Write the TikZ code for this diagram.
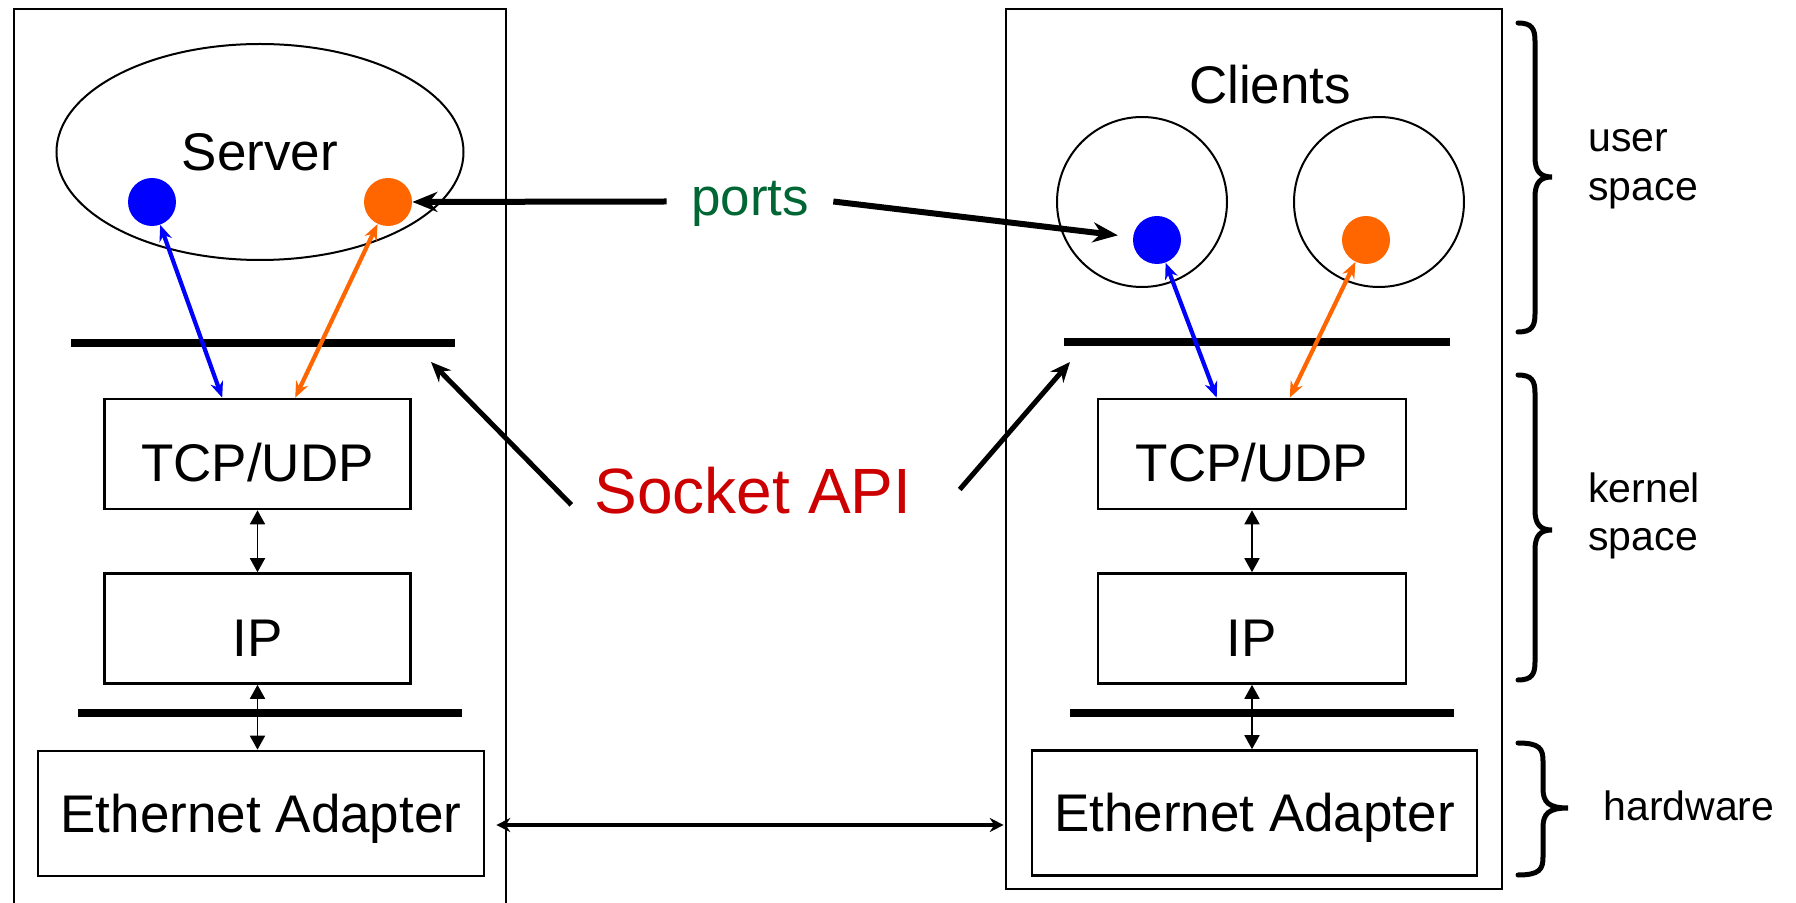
\documentclass[tikz,border=0pt]{standalone}
\usepackage{fontspec}
\setmainfont{Liberation Sans}
\usetikzlibrary{arrows.meta,shapes.geometric,calc}
\definecolor{portblue}{HTML}{0000FF}
\definecolor{portorange}{HTML}{FF6600}
\definecolor{portgreen}{HTML}{006633}
\definecolor{apired}{HTML}{CC0000}
\newcommand{\drawbrace}[6]{%
  \draw[bracestyle] (#1,#4) .. controls ({#2-3},#4) and (#2,{#4+6}) .. (#2,{#4+18})
   -- (#2,{#5-20}) .. controls (#2,{#5-6}) and ({#2+5},#5) .. (#3,#5)
   .. controls ({#2+5},#5) and (#2,{#5+6}) .. (#2,{#5+20})
   -- (#2,{#6-18}) .. controls (#2,{#6-6}) and ({#2-3},#6) .. (#1,#6);}
\begin{document}
\begin{tikzpicture}[x=0.5pt,y=-0.5pt,
  outerbox/.style={line width=0.9pt},
  mainfont/.style={font=\fontsize{26.5}{30}\selectfont},
  layer/.style={draw, rectangle, line width=1.3pt, minimum width=153pt, minimum height=55pt,
    inner sep=0pt, mainfont, text height=28pt, text depth=0pt},
  ethbox/.style={draw, rectangle, line width=1.3pt, minimum width=223pt, minimum height=62.5pt,
    inner sep=0pt, mainfont, text height=19pt, text depth=0pt},
  proc/.style={draw, circle, line width=1pt, minimum size=85pt, inner sep=0pt},
  dot/.style={circle, minimum size=24pt, inner sep=0pt},
  bar/.style={line width=4pt},
  colarrow/.style={line width=2.1pt, {Stealth[length=8pt,width=6.5pt]}-{Stealth[length=8pt,width=6.5pt]}},
  smallarrow/.style={line width=0.9pt, {Triangle[length=7pt,width=7.5pt]}-{Triangle[length=7pt,width=7.5pt]}},
  portarrow/.style={line width=3pt, -{Stealth[length=12.5pt,width=10pt]}},
  apiarrow/.style={line width=2.5pt, -{Stealth[length=10pt,width=8.5pt]}},
  linkarrow/.style={line width=2.2pt, {Stealth[length=7pt,width=7pt]}-{Stealth[length=7pt,width=7pt]}},
  bracestyle/.style={line width=2.5pt, line cap=round},
  sidelabel/.style={font=\fontsize{20.5}{24}\selectfont, anchor=base west, inner sep=0pt}
]
\useasboundingbox (0,0) rectangle (1796,903);

% outer machine boxes
\draw[outerbox] (14,903) -- (14,9) -- (506,9) -- (506,903);
\draw[outerbox] (1006,9) rectangle (1502,889);

% server side
\node[draw, ellipse, line width=1pt, minimum width=203.5pt, minimum height=108pt, inner sep=0pt,
  mainfont, text height=19pt, text depth=0pt] (server) at (260,152) {Server};
\node[dot, fill=portblue] (sb) at (152,202) {};
\node[dot, fill=portorange] (so) at (388,202) {};

% clients side
\node[mainfont, inner sep=0pt, text height=19pt, text depth=0pt] (clients) at (1270,85) {Clients};
\node[proc] (c1) at (1142,202) {};
\node[proc] (c2) at (1379,202) {};
\node[dot, fill=portblue] (cb) at (1157,240) {};
\node[dot, fill=portorange] (co) at (1366,240) {};

% API bars
\coordinate (barTLw) at (71,343);
\coordinate (barTLe) at (455,343);
\coordinate (barTRw) at (1064,342);
\coordinate (barTRe) at (1450,342);
\coordinate (barBLw) at (78,713);
\coordinate (barBLe) at (462,713);
\coordinate (barBRw) at (1070,713);
\coordinate (barBRe) at (1454,713);
\draw[bar] (barTLw) -- (barTLe);
\draw[bar] (barTRw) -- (barTRe);
\draw[bar] (barBLw) -- (barBLe);
\draw[bar] (barBRw) -- (barBRe);

% layer boxes
\node[layer] (tcpL) at (257.5,454) {TCP/UDP};
\node[layer] (ipL) at (257.5,628.5) {IP};
\node[ethbox] (ethL) at (261,813.5) {Ethernet Adapter};
\node[layer, minimum width=154pt] (tcpR) at (1252,454) {TCP/UDP};
\node[layer, minimum width=154pt] (ipR) at (1252,628.5) {IP};
\node[ethbox, minimum width=222.5pt] (ethR) at (1254.5,813) {Ethernet Adapter};

% labels
\node[mainfont, text=portgreen, inner xsep=12pt, inner ysep=0pt, text height=13.75pt, text depth=0pt] (ports) at (750,201.5) {ports};
\node[font=\fontsize{32}{36}\selectfont, text=apired, inner sep=0pt, text height=22.9pt, text depth=0pt] (socket) at (753,490.5) {Socket API};

% port connectors
\draw[colarrow, portblue] (sb) -- ($(tcpL.north west)+(119,0)$);
\draw[colarrow, portorange] (so) -- ($(tcpL.north west)+(192,0)$);
\draw[colarrow, portblue] (cb) -- ($(tcpR.north west)+(120,0)$);
\draw[colarrow, portorange] (co) -- ($(tcpR.north west)+(193,0)$);

% stack connectors
\draw[smallarrow] (tcpL.south) -- (ipL.north);
\draw[smallarrow] (ipL.south) -- (ipL.south |- ethL.north);
\draw[smallarrow] (tcpR.south) -- (ipR.north);
\draw[smallarrow] (ipR.south) -- (ipR.south |- ethR.north);

% network link
\draw[linkarrow] ($(ethL.east)+(11,11.5)$) -- ($(ethR.west)+(-27,12)$);

% ports callouts
\draw[portarrow] (ports.west) -- (so);
\draw[portarrow, shorten >=7.5pt] (ports.east) -- (cb);

% socket API callouts
\draw[apiarrow] ($(socket.south west)+(-23,-9)$) -- ($(barTLe)+(-24,19)$);
\draw[apiarrow] ($(socket.east)+(48,-1)$) -- ($(barTRw)+(6,20)$);

% braces and side labels
\drawbrace{1518}{1535}{1552}{23}{177}{332}
\drawbrace{1518}{1535}{1552}{375}{530}{680}
\drawbrace{1518}{1543}{1568}{743}{808}{875}
\node[sidelabel] (u1) at (1588,152) {user};
\node[sidelabel] (u2) at (1588,201) {space};
\node[sidelabel] (k1) at (1588,503) {kernel};
\node[sidelabel] (k2) at (1588,551) {space};
\node[sidelabel] (hw) at (1603,820) {hardware};
\end{tikzpicture}
\end{document}
